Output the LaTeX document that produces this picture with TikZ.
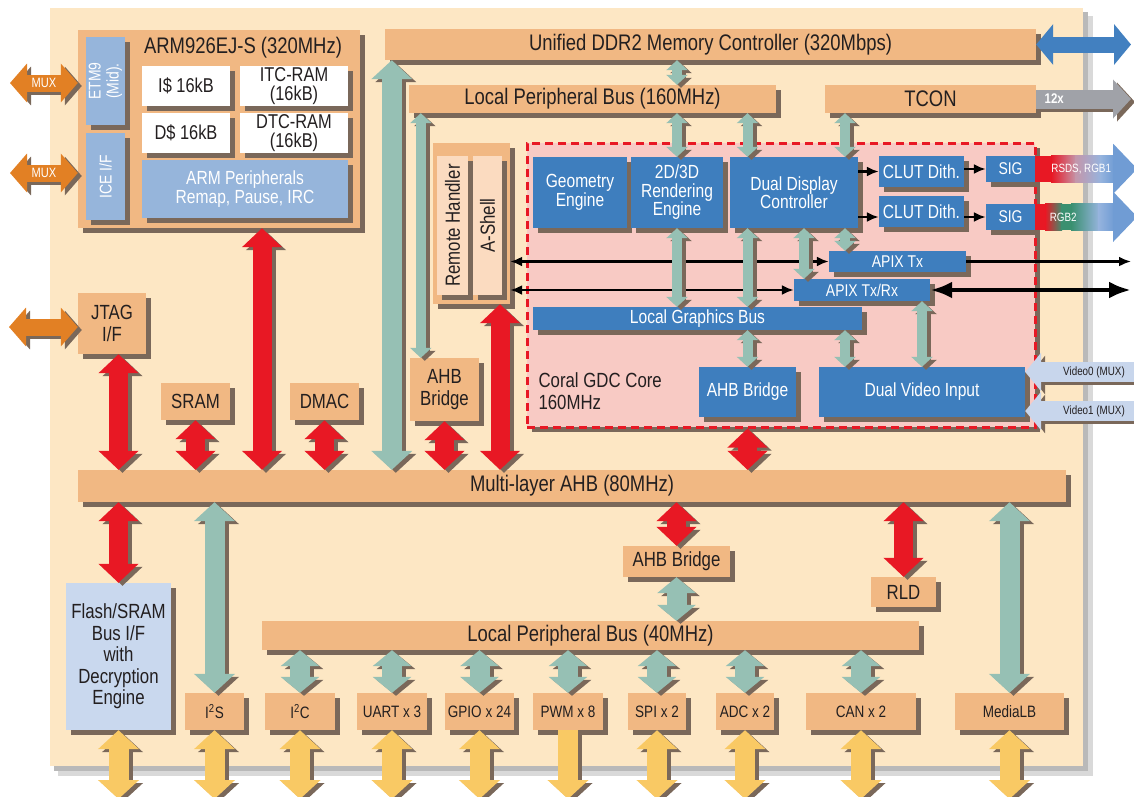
\documentclass[tikz,border=0pt]{standalone}
\usepackage{fontspec}
\setmainfont{Liberation Sans}[FakeStretch=0.82]
\usetikzlibrary{arrows.meta,shadows}

\definecolor{panel}{RGB}{253,231,196}
\definecolor{sand}{RGB}{241,184,131}
\definecolor{dropshade}{RGB}{122,104,90}
\definecolor{ink}{RGB}{35,31,32}
\definecolor{steel}{RGB}{62,126,190}
\definecolor{haze}{RGB}{150,181,219}
\definecolor{frost}{RGB}{201,216,238}
\definecolor{blush}{RGB}{248,202,196}
\definecolor{peach}{RGB}{251,219,192}
\definecolor{busred}{RGB}{232,24,36}
\definecolor{busteal}{RGB}{150,192,180}
\definecolor{busyellow}{RGB}{249,201,100}
\definecolor{busorange}{RGB}{226,128,36}
\definecolor{busgray}{RGB}{160,162,168}
\definecolor{busblue}{RGB}{66,128,192}
\definecolor{videoblue}{RGB}{200,214,236}
\definecolor{rsdsmid}{RGB}{196,150,170}
\definecolor{rgbgreen}{RGB}{58,144,112}
\definecolor{outblue}{RGB}{150,180,222}
\definecolor{tipblue}{RGB}{112,156,212}

% a fat bus arrow with its shadow underneath
\newcommand\busline[3]{%
    \draw[#1, draw=dropshade, transform canvas={shift={(4pt,-3pt)}}] #2 -- #3;
    \draw[#1] #2 -- #3;}

\begin{document}
\begin{tikzpicture}
    [
        x=1pt, y=-1pt,
        wh/.style 2 args={minimum width=#1, minimum height=#2},
        box/.style={rectangle, fill=sand, text=ink, inner sep=0pt, align=center,
            drop shadow={shadow xshift=5pt, shadow yshift=-5pt, fill=dropshade, opacity=1}},
        gbox/.style={box, fill=steel, text=white},
        pale/.style={box, fill=haze, text=white},
        cache/.style={box, fill=white, font=\fontsize{20}{19}\selectfont},
        huge/.style={font=\fontsize{22.5}{24}\selectfont},
        big/.style={font=\fontsize{20.5}{21.5}\selectfont},
        mid/.style={font=\fontsize{19}{18.5}\selectfont},
        small/.style={font=\fontsize{17}{18}\selectfont},
        peri/.style={font=\fontsize{16.5}{18}\selectfont},
        tiny/.style={font=\fontsize{12}{13}\selectfont},
        redbus/.style={draw=busred, line width=19pt,
            {Triangle[length=19pt,width=39pt]}-{Triangle[length=19pt,width=39pt]}},
        tealbus/.style={draw=busteal, line width=20pt,
            {Triangle[length=19pt,width=40pt]}-{Triangle[length=19pt,width=40pt]}},
        tealstub/.style={draw=busteal, line width=20pt,
            {Triangle[length=16pt,width=38pt]}-{Triangle[length=16pt,width=38pt]}},
        tealpipe/.style={draw=busteal, line width=10pt,
            {Triangle[length=10pt,width=21pt]}-{Triangle[length=10pt,width=21pt]}},
        yellowbus/.style={draw=busyellow, line width=20pt,
            {Triangle[length=19pt,width=40pt]}-{Triangle[length=19pt,width=40pt]}},
        muxbus/.style={draw=busorange, line width=17pt,
            {Triangle[length=17pt,width=38pt]}-{Triangle[length=17pt,width=38pt]}},
        bluebus/.style={draw=busblue, line width=16pt,
            {Triangle[length=17pt,width=40pt]}-{Triangle[length=17pt,width=40pt]}},
        graybus/.style={draw=busgray, line width=19pt, -{Triangle[length=18pt,width=38pt]}},
        videobus/.style={draw=videoblue, line width=20pt, -{Triangle[length=16pt,width=38pt]}},
        wire/.style={draw=black, line width=2.5pt, -{Latex[length=12pt,width=10pt]}},
        twowire/.style={wire, {Latex[length=12pt,width=10pt]}-{Latex[length=12pt,width=10pt]}},
        fatwire/.style={draw=black, line width=4.5pt, {Latex[length=22pt,width=17pt]}-{Latex[length=22pt,width=17pt]}},
    ]
    \useasboundingbox (0,0) rectangle (1134,796);

    % board
    \fill[gray!30] (58,16) rectangle (1093,776);
    \fill[gray!55] (54,12) rectangle (1088,771);
    \fill[panel] (50,8) rectangle (1083,766);

    \coordinate (rim)    at (1131,0);
    \coordinate (floor)  at (0,799);
    \coordinate (mux1)   at (10,83);
    \coordinate (mux2)   at (10,173);
    \coordinate (jtagio) at (9,327);
    \coordinate (vin0)   at (1136,372);
    \coordinate (vin1)   at (1136,411);

    % ARM subsystem
    \node (arm)     at (219,129)   [box, wh={282}{198}] {};
    \node (armname) at (243,48)    [huge, text=ink] {ARM926EJ-S (320MHz)};
    \node (etm)     at (105.5,81)  [pale, wh={39}{88}] {};
    \node (etmlabel) at (etm)      [small, rotate=90, text=white, align=center] {ETM9\\(Mid).};
    \node (ice)     at (105.5,176.5) [pale, wh={39}{87}] {};
    \node (icelabel) at (ice)      [small, rotate=90, text=white] {ICE I/F};
    \node (icache)  at (186,86)    [cache, wh={88}{40}] {I\$ 16kB};
    \node (itcram)  at (294,86)    [cache, wh={108}{40}] {ITC-RAM\\(16kB)};
    \node (dcache)  at (186,133)   [cache, wh={88}{40}] {D\$ 16kB};
    \node (dtcram)  at (294,133)   [cache, wh={108}{40}] {DTC-RAM\\(16kB)};
    \node (armper)  at (245,189)   [pale, mid, wh={206}{58}] {ARM Peripherals\\Remap, Pause, IRC};

    % buses
    \node (ddr)   at (710.5,44.5) [box, huge, wh={651}{31}] {Unified DDR2 Memory Controller (320Mbps)};
    \node (lpbhi) at (592.5,99)   [box, huge, wh={367}{28}] {Local Peripheral Bus (160MHz)};
    \node (tcon)  at (930.5,99)   [box, huge, wh={211}{28}] {TCON};
    \node (ahb)   at (572,486)    [box, huge, wh={988}{32}] {Multi-layer AHB (80MHz)};
    \node (lpblo) at (590.5,635.5) [box, huge, wh={657}{29}] {Local Peripheral Bus (40MHz)};

    % left side
    \node (jtag)    at (112,323.5)   [box, big, wh={68}{61}] {JTAG\\I/F};
    \node (sram)    at (195.5,401.5) [box, big, wh={69}{37}] {SRAM};
    \node (dmac)    at (324.5,401.5) [box, big, wh={69}{37}] {DMAC};
    \node (bridgeL) at (444.5,389.5) [box, big, wh={69}{63}] {AHB\\Bridge};
    \node (shell)   at (471.5,223.5) [box, wh={77}{161}] {};
    \node (remote)  at (452.5,225.5) [box, fill=peach, wh={31}{139}] {};
    \node (remotelabel) at (remote)  [big, rotate=90, text=ink] {Remote Handler};
    \node (ashell)  at (487.5,225.5) [box, fill=peach, wh={29}{139}] {};
    \node (ashelllabel) at (ashell)  [big, rotate=90, text=ink] {A-Shell};

    % graphics core
    \node (gdc)   at (781,285) [box, fill=blush, draw=busred, line width=3pt,
                                dash pattern=on 8pt off 5pt, wh={508}{284}] {};
    \node (coral) at (535,391) [anchor=west, big, align=left, text=ink] {Coral GDC Core\\160MHz};
    \node (geom)    at (580,192.5)   [gbox, mid, wh={94}{71}]  {Geometry\\Engine};
    \node (r3d)     at (677,192.5)   [gbox, mid, wh={92}{71}]  {2D/3D\\Rendering\\Engine};
    \node (ddc)     at (794,192.5)   [gbox, mid, wh={128}{71}] {Dual Display\\Controller};
    \node (clut1)   at (921.5,171.5) [gbox, mid, wh={85}{31}]  {CLUT Dith.};
    \node (clut2)   at (921.5,211.5) [gbox, mid, wh={85}{31}]  {CLUT Dith.};
    \node (sig1)    at (1010.5,169)  [gbox, small, wh={49}{26}] {SIG};
    \node (sig2)    at (1010.5,217)  [gbox, small, wh={49}{26}] {SIG};
    \node (apixtx)  at (897.5,261.5) [gbox, small, wh={137}{21}] {APIX Tx};
    \node (apixtrx) at (862,290)     [gbox, small, wh={136}{22}] {APIX Tx/Rx};
    \node (lgb)     at (697.5,318.5) [gbox, mid, wh={329}{23}] {Local Graphics Bus};
    \node (ahbg)    at (747.5,392)   [gbox, mid, wh={97}{50}]  {AHB Bridge};
    \node (dvi)     at (922,392)     [gbox, mid, wh={206}{50}] {Dual Video Input};

    % lower half
    \node (ahbB)  at (676.5,561.5) [box, big, wh={107}{31}] {AHB Bridge};
    \node (rld)   at (903.5,592)   [box, big, wh={65}{30}]  {RLD};
    \node (flash) at (118.5,656.5) [box, fill=frost, big, wh={105}{147}]
        {Flash/SRAM\\Bus I/F\\with\\Decryption\\Engine};
    \node (i2s)  at (214.5,711.5) [box, peri, wh={59}{37}]  {I\textsuperscript{2}S};
    \node (i2c)  at (300,711.5)   [box, peri, wh={70}{37}]  {I\textsuperscript{2}C};
    \node (uart) at (392,711.5)   [box, peri, wh={70}{37}]  {UART x 3};
    \node (gpio) at (479.5,711.5) [box, peri, wh={69}{37}]  {GPIO x 24};
    \node (pwm)  at (568,711.5)   [box, peri, wh={70}{37}]  {PWM x 8};
    \node (spi)  at (657,711.5)   [box, peri, wh={58}{37}]  {SPI x 2};
    \node (adc)  at (745,711.5)   [box, peri, wh={58}{37}]  {ADC x 2};
    \node (can)  at (861,711.5)   [box, peri, wh={110}{37}] {CAN x 2};
    \node (mlb)  at (1009.5,711.5) [box, peri, wh={109}{37}] {MediaLB};

    % display outputs, red into blue
    \fill[busred] (sig1.north east) rectangle ([xshift=17pt]sig1.south east);
    \shade[left color=busred, right color=rsdsmid]
        ([xshift=16pt]sig1.north east) rectangle ([xshift=41pt]sig1.south east);
    \shade[left color=rsdsmid, right color=outblue]
        ([xshift=40pt]sig1.north east) rectangle ([xshift=66pt]sig1.south east);
    \shade[left color=outblue, right color=tipblue]
        ([xshift=65pt]sig1.north east) rectangle ([xshift=79pt]sig1.south east);
    \fill[tipblue] ([xshift=78pt]sig1.north east) -- ++(0,-12) -- ++(24,25)
        -- ++(-24,25) -- ++(0,-12) -- cycle;
    \fill[busred] (sig2.north east) rectangle ([xshift=11pt]sig2.south east);
    \shade[left color=busred, right color=rgbgreen]
        ([xshift=10pt]sig2.north east) rectangle ([xshift=27pt]sig2.south east);
    \fill[rgbgreen] ([xshift=26pt]sig2.north east) rectangle ([xshift=37pt]sig2.south east);
    \shade[left color=rgbgreen, right color=outblue]
        ([xshift=36pt]sig2.north east) rectangle ([xshift=64pt]sig2.south east);
    \shade[left color=outblue, right color=tipblue]
        ([xshift=63pt]sig2.north east) rectangle ([xshift=79pt]sig2.south east);
    \fill[tipblue] ([xshift=78pt]sig2.north east) -- ++(0,-12) -- ++(24,25)
        -- ++(-24,25) -- ++(0,-12) -- cycle;
    \node (rsds) at ([xshift=46pt]sig1.east) [tiny, text=white] {RSDS, RGB1};
    \node (rgb2) at ([xshift=28pt]sig2.east) [tiny, text=white] {RGB2};

    % black signal lines
    \draw[wire] (ddc.east |- clut1.west) -- (clut1.west);
    \draw[wire] (ddc.east |- sig2.west) -- (clut2.west |- sig2.west);
    \draw[wire] (clut1.east |- sig1.west) -- (sig1.west);
    \draw[wire] (clut2.east |- sig2.west) -- (sig2.west);
    \draw[twowire] (shell.east |- apixtx.west) -- (apixtx.west);
    \draw[twowire] (shell.east |- apixtrx.west) -- (apixtrx.west);
    \draw[wire] (apixtx.east) -- (apixtx.east -| rim);
    \draw[fatwire] (apixtrx.east) -- (apixtrx.east -| rim);

    % off-chip ports
    \draw[bluebus] (ddr.east) -- (ddr.east -| rim);
    \busline{graybus}{(tcon.east)}{(tcon.east -| rim)}
    \node (twelve) at ([xshift=18pt]tcon.east) [text=white, font=\fontsize{14}{15}\selectfont\bfseries] {12x};
    \busline{muxbus}{(mux1)}{(mux1 -| arm.west)}
    \busline{muxbus}{(mux2)}{(mux2 -| arm.west)}
    \node (muxlabel1) at ([xshift=34pt]mux1) [text=white, font=\fontsize{13.5}{14}\selectfont] {MUX};
    \node (muxlabel2) at ([xshift=34pt]mux2) [text=white, font=\fontsize{13.5}{14}\selectfont] {MUX};
    \busline{muxbus}{(jtagio)}{(jtagio -| jtag.west)}
    \busline{videobus}{(vin0)}{(vin0 -| dvi.east)}
    \busline{videobus}{(vin1)}{(vin1 -| dvi.east)}
    \node (vin0label) at ([xshift=-42pt]vin0) [tiny, text=ink] {Video0 (MUX)};
    \node (vin1label) at ([xshift=-42pt]vin1) [tiny, text=ink] {Video1 (MUX)};

    % AHB links
    \coordinate (armport)   at ([xshift=43pt]arm.south);
    \coordinate (shellport) at ([xshift=28.5pt]shell.south);
    \busline{redbus}{(flash.north |- jtag.south)}{(flash.north |- ahb.north)}
    \busline{redbus}{(sram.south)}{(sram.south |- ahb.north)}
    \busline{redbus}{(armport)}{(armport |- ahb.north)}
    \busline{redbus}{(dmac.south)}{(dmac.south |- ahb.north)}
    \busline{redbus}{(bridgeL.south)}{(bridgeL.south |- ahb.north)}
    \busline{redbus}{(shellport)}{(shellport |- ahb.north)}
    \busline{redbus}{(ahbg.south |- gdc.south)}{(ahbg.south |- ahb.north)}
    \busline{redbus}{(flash.north |- ahb.south)}{(flash.north)}
    \busline{redbus}{(ahbB.north |- ahb.south)}{(ahbB.north)}
    \busline{redbus}{(rld.north |- ahb.south)}{(rld.north)}

    % peripheral links
    \coordinate (ddrport)    at ([xshift=7pt]ddr.south west);
    \coordinate (bridgeport) at ([xshift=11pt]bridgeL.north west);
    \coordinate (tap)    at (845,0);
    \coordinate (trxtap) at (804,0);
    \busline{tealbus}{(ddrport)}{(ddrport |- ahb.north)}
    \busline{tealbus}{(i2s.north |- ahb.south)}{(i2s.north)}
    \busline{tealbus}{(mlb.north |- ahb.south)}{(mlb.north)}
    \busline{tealpipe}{(r3d.north |- ddr.south)}{(r3d.north |- lpbhi.north)}
    \busline{tealpipe}{(bridgeport |- lpbhi.south)}{(bridgeport)}
    \busline{tealpipe}{(r3d.north |- lpbhi.south)}{(r3d.north)}
    \busline{tealpipe}{(ahbg.north |- lpbhi.south)}{(ahbg.north |- ddc.north)}
    \busline{tealpipe}{(tap |- tcon.south)}{(tap |- ddc.north)}
    \busline{tealpipe}{(r3d.south)}{(r3d.south |- lgb.north)}
    \busline{tealpipe}{(ahbg.north |- ddc.south)}{(ahbg.north |- lgb.north)}
    \busline{tealpipe}{(trxtap |- ddc.south)}{(trxtap |- apixtrx.north)}
    \busline{tealpipe}{(tap |- ddc.south)}{(tap |- apixtx.north)}
    \busline{tealpipe}{(ahbg.north |- lgb.south)}{(ahbg.north)}
    \busline{tealpipe}{(tap |- lgb.south)}{(tap |- dvi.north)}
    \busline{tealpipe}{(dvi.north |- apixtrx.south)}{(dvi.north)}
    \busline{tealstub}{(ahbB.south)}{(ahbB.south |- lpblo.north)}
    \foreach \p in {i2c,uart,gpio,pwm,spi,adc,can}
        {\busline{tealstub}{(\p.north |- lpblo.south)}{(\p.north)}}

    % pins
    \foreach \p in {flash,i2s,i2c,uart,gpio,spi,adc,can,mlb}
        {\busline{yellowbus}{(\p.south)}{(\p.south |- floor)}}
    \busline{yellowbus, -{Triangle[length=19pt,width=40pt]}}{(pwm.south)}{(pwm.south |- floor)}

\end{tikzpicture}
\end{document}
